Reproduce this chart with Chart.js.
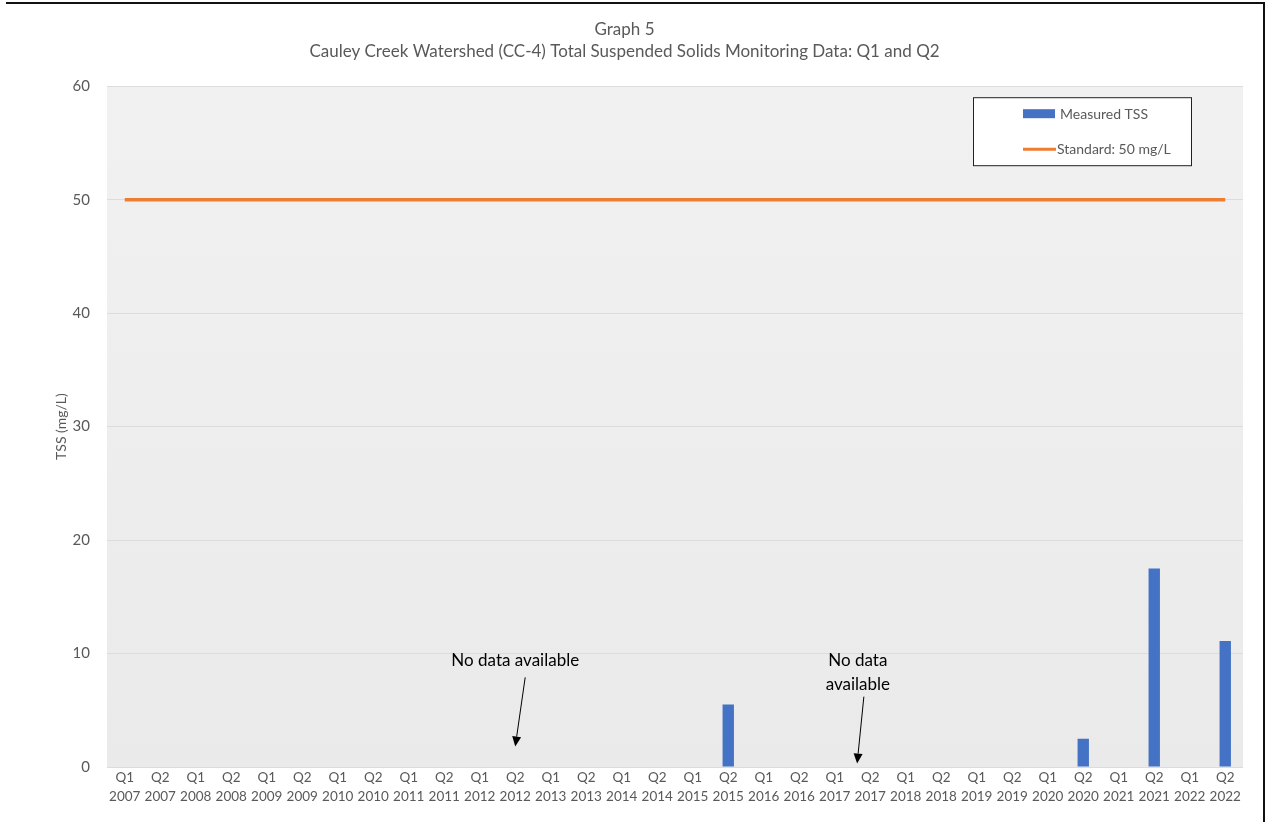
<!DOCTYPE html>
<html>
<head>
<meta charset="utf-8">
<script src="https://cdn.jsdelivr.net/npm/chart.js@4.4.1/dist/chart.umd.min.js"></script>
<style>
    html, body { margin: 0; padding: 0; background: #fff; }
    #wrap {
        position: relative;
        box-sizing: border-box;
        border-top: 2px solid #111;
        border-right: 2px solid #111;
        margin-left: 6px;
        margin-top: 2px;
        width: 1259px;
        height: 820px;
    }
</style>
</head>
<body>
<div id="wrap"><canvas id="chart"></canvas></div>
<script>
// Graph 5 - CC-4 TSS monitoring, Q1 and Q2

const quarters = ['Q1', 'Q2'];
const years = [2007, 2008, 2009, 2010, 2011, 2012, 2013, 2014, 2015, 2016, 2017, 2018, 2019, 2020, 2021, 2022];

// null = no sample / nothing measured for that quarter
const measuredTSS = [
    null, null, null, null, null, null, null, null,   // 2007-2010
    null, null, null, null, null, null, null, null,   // 2011-2014
    null, 5.5,  null, null, null, null, null, null,   // 2015-2018
    null, null, null, 2.5,  null, 17.5, null, 11.1    // 2019-2022
];
const standardValue = 50;

const yTicks = [0, 10, 20, 30, 40, 50, 60];

// "No data available" notes: text anchor and arrow, in (category index, mg/L)
const notes = [
    { lines: ['No data available'], at: [11, 9.35], from: [11.28, 7.9], to: [11, 1.8] },
    { lines: ['No data', 'available'], at: [20.65, 9.35], from: [20.82, 6.2], to: [20.63, 0.3] }
];

const labels = [];
years.forEach(y => quarters.forEach(q => labels.push([q, String(y)])));
const standardLine = labels.map(() => standardValue);

const FONT = 'Lato, "Open Sans", sans-serif';
const GREY = '#595959';

function xAt(scale, idx) {
    const i0 = Math.floor(idx);
    const a = scale.getPixelForValue(i0);
    const b = scale.getPixelForValue(i0 + 1);
    return a + (b - a) * (idx - i0);
}

const extrasPlugin = {
    id: 'extras',
    beforeDraw(chart) {
        const { ctx, chartArea: ca } = chart;
        const g = ctx.createLinearGradient(0, ca.top, 0, ca.bottom);
        g.addColorStop(0, '#f1f1f1');
        g.addColorStop(1, '#eaeaea');
        ctx.save();
        ctx.fillStyle = g;
        ctx.fillRect(ca.left, ca.top, ca.right - ca.left, ca.bottom - ca.top);
        ctx.restore();
    },
    afterDraw(chart) {
        const { ctx, chartArea: ca } = chart;
        const xs = chart.scales.x, ys = chart.scales.y;
        ctx.save();

        // notes + arrows
        ctx.fillStyle = '#000';
        ctx.strokeStyle = '#000';
        ctx.font = '17px ' + FONT;
        ctx.textAlign = 'center';
        ctx.textBaseline = 'middle';
        notes.forEach(n => {
            const tx = xAt(xs, n.at[0]), ty = ys.getPixelForValue(n.at[1]);
            n.lines.forEach((l, i) => ctx.fillText(l, tx, ty + i * 24));
            const x1 = xAt(xs, n.from[0]), y1 = ys.getPixelForValue(n.from[1]);
            const x2 = xAt(xs, n.to[0]), y2 = ys.getPixelForValue(n.to[1]);
            const ang = Math.atan2(y2 - y1, x2 - x1);
            const hl = 10, hw = 4.5;
            const bx = x2 - hl * Math.cos(ang), by = y2 - hl * Math.sin(ang);
            ctx.lineWidth = 1;
            ctx.beginPath();
            ctx.moveTo(x1, y1);
            ctx.lineTo(bx, by);
            ctx.stroke();
            ctx.beginPath();
            ctx.moveTo(x2, y2);
            ctx.lineTo(bx + hw * Math.sin(ang), by - hw * Math.cos(ang));
            ctx.lineTo(bx - hw * Math.sin(ang), by + hw * Math.cos(ang));
            ctx.closePath();
            ctx.fill();
        });

        // legend box, top right inside plot
        const bw = 218, bh = 68;
        const lx = ca.right - 52 - bw, ly = ca.top + 11;
        ctx.fillStyle = '#fff';
        ctx.fillRect(lx, ly, bw, bh);
        ctx.strokeStyle = '#222';
        ctx.lineWidth = 1;
        ctx.strokeRect(lx + 0.5, ly + 0.5, bw, bh);
        const ds = chart.data.datasets;
        ctx.textAlign = 'left';
        ctx.font = '14px ' + FONT;
        ctx.fillStyle = ds[0].backgroundColor;
        ctx.fillRect(lx + 50, ly + 12, 32, 9);
        ctx.fillStyle = GREY;
        ctx.fillText(ds[0].label, lx + 87, ly + 17);
        ctx.strokeStyle = ds[1].borderColor;
        ctx.lineWidth = 3;
        ctx.beginPath();
        ctx.moveTo(lx + 50, ly + 52);
        ctx.lineTo(lx + 83, ly + 52);
        ctx.stroke();
        ctx.fillStyle = GREY;
        ctx.fillText(ds[1].label, lx + 84, ly + 52);
        ctx.restore();
    }
};

new Chart(document.getElementById('chart'), {
    data: {
        labels: labels,
        datasets: [
            {
                type: 'bar',
                label: 'Measured TSS',
                data: measuredTSS,
                backgroundColor: '#4472C4',
                categoryPercentage: 1,
                barPercentage: 0.32,
                order: 2
            },
            {
                type: 'line',
                label: 'Standard: 50 mg/L',
                data: standardLine,
                borderColor: '#ED7D31',
                borderWidth: 3.5,
                pointRadius: 0,
                fill: false,
                order: 1
            }
        ]
    },
    options: {
        responsive: true,
        maintainAspectRatio: false,
        animation: false,
        layout: { padding: { left: 0, right: 20, top: 0, bottom: 5 } },
        plugins: {
            legend: { display: false },
            tooltip: { enabled: false },
            title: {
                display: true,
                text: ['Graph 5', 'Cauley Creek Watershed (CC-4) Total Suspended Solids Monitoring Data: Q1 and Q2'],
                color: GREY,
                font: { family: FONT, size: 17, weight: 'normal', lineHeight: 1.3 },
                padding: { top: 14, bottom: 24 }
            }
        },
        scales: {
            x: {
                offset: true,
                grid: { display: false },
                border: { display: false },
                afterFit(scale) { scale.height = 50; },
                ticks: {
                    color: GREY,
                    font: { family: FONT, size: 13.5, lineHeight: 1.35 },
                    maxRotation: 0,
                    autoSkip: false,
                    padding: -6
                }
            },
            y: {
                min: 0,
                max: 60,
                afterBuildTicks(scale) {
                    scale.ticks = yTicks.map(v => ({ value: v }));
                },
                afterFit(scale) { scale.width = 101; },
                grid: { color: '#dcdcdc', drawTicks: false },
                border: { display: false },
                ticks: {
                    color: GREY,
                    font: { family: FONT, size: 15 },
                    padding: 17
                },
                title: {
                    display: true,
                    text: 'TSS (mg/L)',
                    color: GREY,
                    font: { family: FONT, size: 14 },
                    padding: { top: 47, bottom: 0 }
                }
            }
        }
    },
    plugins: [extrasPlugin]
});
</script>
</body>
</html>
